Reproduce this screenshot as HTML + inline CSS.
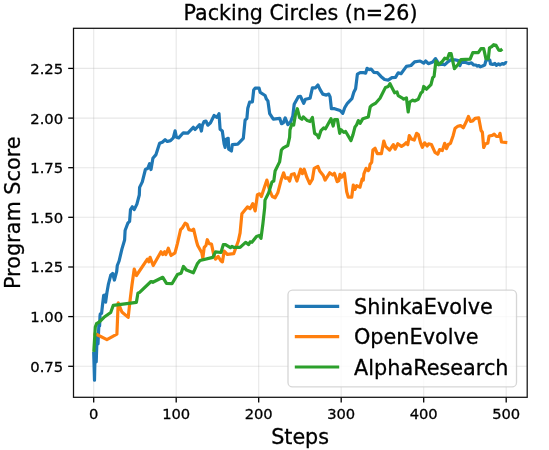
<!DOCTYPE html>
<html><head><meta charset="utf-8"><title>Packing Circles (n=26)</title>
<style>html,body{margin:0;padding:0;background:#fff}svg{display:block}text{font-family:"DejaVu Sans","Liberation Sans",sans-serif;fill:#000;stroke:#000;stroke-width:0.3px}</style></head>
<body>
<svg width="549" height="450" viewBox="0 0 549 450">
<rect width="549" height="450" fill="#fff"/>
<g stroke="#b0b0b0" stroke-opacity="0.3" stroke-width="1.1" fill="none">
<line x1="93.7" y1="28.3" x2="93.7" y2="397.3"/>
<line x1="176.2" y1="28.3" x2="176.2" y2="397.3"/>
<line x1="258.7" y1="28.3" x2="258.7" y2="397.3"/>
<line x1="341.2" y1="28.3" x2="341.2" y2="397.3"/>
<line x1="423.7" y1="28.3" x2="423.7" y2="397.3"/>
<line x1="506.2" y1="28.3" x2="506.2" y2="397.3"/>
<line x1="73.5" y1="366.3" x2="527.2" y2="366.3"/>
<line x1="73.5" y1="316.6" x2="527.2" y2="316.6"/>
<line x1="73.5" y1="267.0" x2="527.2" y2="267.0"/>
<line x1="73.5" y1="217.3" x2="527.2" y2="217.3"/>
<line x1="73.5" y1="167.7" x2="527.2" y2="167.7"/>
<line x1="73.5" y1="118.1" x2="527.2" y2="118.1"/>
<line x1="73.5" y1="68.4" x2="527.2" y2="68.4"/>
</g>
<clipPath id="c"><rect x="73.5" y="28.3" width="453.70000000000005" height="369.0"/></clipPath>
<g clip-path="url(#c)" fill="none" stroke-width="3.2" stroke-linejoin="round" stroke-linecap="butt">
<polyline stroke="#1f77b4" points="93.7,352.0 94.5,380.2 95.3,343.0 96.2,362.0 97.2,334.0 98.0,344.0 99.0,322.0 99.6,326.0 100.0,316.0 100.3,314.0 101.6,313.3 102.4,306.0 103.7,295.3 104.9,295.1 105.6,302.2 106.9,292.7 108.3,284.7 110.7,275.3 112.7,273.5 114.4,280.0 116.7,271.3 117.3,265.5 119.1,261.0 121.9,249.1 124.6,240.0 125.1,230.5 127.8,223.2 129.6,221.4 130.5,209.6 132.3,206.8 134.2,209.6 136.9,204.1 139.3,195.0 139.6,187.4 142.3,181.9 145.4,169.5 147.8,168.3 149.6,163.7 151.0,169.5 152.9,158.3 156.0,154.6 159.6,143.3 162.3,142.2 165.1,139.7 167.3,141.5 170.5,140.6 173.3,137.9 175.1,130.9 176.4,137.3 178.7,137.9 183.3,132.8 187.8,133.1 193.3,127.3 195.1,129.5 199.6,124.6 201.4,131.0 202.4,125.1 204.1,121.5 205.9,121.0 207.8,125.2 210.5,122.8 214.1,115.5 216.9,117.3 219.0,113.7 220.1,129.2 222.3,131.0 224.1,143.8 225.1,147.4 226.3,139.2 228.2,138.3 228.7,149.2 231.4,151.0 232.3,144.7 237.8,144.1 243.3,138.3 245.1,120.1 246.9,118.3 247.8,108.2 249.6,102.2 252.4,101.9 253.7,90.0 255.1,88.2 259.1,88.2 260.2,92.4 265.1,95.5 266.4,99.1 267.9,100.9 269.7,113.7 273.3,119.2 279.7,118.3 281.5,123.7 283.3,122.8 285.2,117.9 287.9,124.6 290.6,121.9 292.8,116.0 294.2,104.2 298.2,96.9 300.4,96.3 303.7,103.3 305.5,99.2 310.1,98.2 312.4,87.8 315.5,87.8 317.9,85.0 320.1,89.6 322.8,94.1 326.4,95.1 328.8,94.1 330.1,96.9 331.4,108.7 334.6,108.7 340.1,110.5 342.8,113.3 344.7,107.8 347.4,103.3 351.9,98.7 353.8,92.3 355.6,88.7 357.4,74.1 360.1,72.7 363.8,72.7 365.6,73.2 367.1,68.3 369.3,69.6 371.1,69.0 373.8,72.3 377.4,72.7 380.9,76.4 384.6,79.5 388.2,80.1 391.9,77.7 395.5,77.4 398.2,72.8 401.0,73.7 406.4,66.4 411.0,65.5 414.6,61.9 420.1,61.0 423.7,63.2 425.6,61.0 428.3,63.7 432.8,61.9 435.5,58.6 437.3,61.3 438.7,64.6 443.1,64.2 444.6,64.9 446.8,62.8 450.9,59.8 454.8,59.8 458.4,60.6 459.9,65.6 461.3,62.1 465.0,62.3 468.6,63.6 471.5,62.8 473.7,65.0 475.9,65.0 477.4,66.1 478.9,65.5 480.3,66.8 482.5,66.0 484.7,65.0 486.1,60.0 489.8,60.0 490.5,63.9 492.7,64.5 494.9,63.5 496.3,65.3 498.5,63.9 500.0,64.9 502.2,63.5 503.6,64.2 505.8,62.6 507.0,63.1"/>
<polyline stroke="#ff7f0e" points="93.4,334.0 96.8,334.5 106.9,339.6 116.9,334.2 118.2,302.8 121.9,312.0 128.2,317.4 130.1,300.1 131.9,285.5 134.2,269.1 136.4,275.5 147.4,259.1 148.8,261.9 150.1,257.3 153.2,265.5 161.0,251.8 162.8,254.5 164.6,251.8 165.9,254.5 168.3,248.2 171.0,255.5 175.0,252.8 177.4,243.6 180.6,229.6 182.4,227.8 185.2,223.2 187.0,224.1 188.8,229.6 192.4,230.5 193.6,229.1 196.4,241.0 197.7,245.5 201.8,252.8 202.8,258.3 204.2,247.4 206.0,245.5 207.3,239.7 209.1,243.7 211.5,244.1 213.7,254.6 215.5,259.2 218.2,256.5 221.0,261.0 222.4,261.9 224.2,251.0 227.3,254.3 233.7,253.7 238.3,241.0 240.1,232.8 241.9,213.7 247.4,206.9 250.1,208.7 252.8,203.6 255.2,210.9 257.4,194.7 259.6,193.8 261.4,196.5 264.1,188.3 266.9,180.1 269.6,190.1 272.3,196.5 275.1,197.8 277.8,192.8 281.4,179.2 283.6,172.8 285.4,178.3 287.8,177.7 289.6,181.0 291.4,174.6 294.2,173.7 296.9,181.0 300.6,169.2 302.4,173.7 304.2,169.2 306.9,177.4 309.7,183.7 312.4,179.2 314.2,168.3 317.9,166.4 319.7,171.0 323.3,175.5 325.1,180.1 329.7,172.8 332.8,175.0 334.4,173.3 337.2,181.7 338.9,180.6 340.0,174.4 341.7,177.2 344.4,173.3 346.7,191.7 348.3,197.2 351.7,197.2 353.3,185.0 355.0,189.4 356.7,185.6 360.0,187.2 362.2,178.9 363.3,180.0 363.9,173.9 366.1,168.3 368.3,170.6 369.4,168.9 370.0,164.4 371.7,162.2 372.9,150.1 375.1,148.3 377.3,153.7 381.4,153.7 383.8,141.0 385.6,146.4 389.6,150.1 393.3,144.6 395.1,149.2 397.8,143.7 401.5,146.4 404.2,144.6 406.0,142.8 407.8,144.6 409.3,135.5 411.5,139.1 414.2,140.1 416.6,133.3 418.4,134.6 420.6,142.8 422.4,147.3 424.6,142.8 427.2,146.0 428.6,143.8 431.4,144.5 435.0,152.4 437.8,154.2 439.6,149.6 442.3,150.6 444.7,143.3 446.5,148.7 448.3,144.5 450.5,143.3 453.2,135.4 455.1,128.2 457.8,126.3 460.5,125.6 463.3,127.8 466.0,122.3 468.4,116.5 470.5,121.4 472.7,120.9 475.1,118.3 478.7,117.8 481.1,130.5 482.4,132.3 483.7,147.5 485.5,143.8 487.8,143.3 489.1,136.0 492.4,135.4 494.2,134.2 496.4,136.5 498.8,136.5 500.0,133.3 501.5,142.0 507.3,142.7"/>
<polyline stroke="#2ca02c" points="93.8,351.8 95.3,327.0 96.7,323.4 98.7,322.5 104.0,317.3 110.7,312.5 113.3,305.3 136.4,302.3 137.9,293.2 139.6,292.3 151.0,281.5 152.8,282.3 162.8,277.3 166.5,283.4 172.0,283.7 177.4,274.6 181.1,273.2 183.4,266.4 186.5,270.1 193.3,272.8 197.3,263.8 200.0,260.5 212.8,257.4 215.5,251.9 221.0,252.5 223.3,244.6 225.5,244.6 230.4,247.7 231.9,246.4 233.7,247.4 240.1,247.4 245.6,242.3 248.7,244.6 250.1,241.9 251.9,242.3 256.5,236.4 259.2,235.5 261.0,238.3 262.9,223.7 264.7,207.3 265.0,200.1 268.7,192.8 272.0,181.9 273.8,181.0 275.1,171.0 279.6,161.9 281.4,150.0 283.3,147.9 287.8,145.5 289.6,137.3 290.0,129.7 291.8,124.2 293.7,125.1 295.5,114.2 297.3,108.7 299.7,117.8 301.9,119.3 303.3,116.9 307.3,120.6 310.1,121.5 312.4,117.5 314.6,133.3 317.3,135.1 318.6,137.9 321.0,130.6 323.7,127.8 325.5,128.8 331.0,118.7 333.2,126.0 334.6,119.6 337.4,119.6 339.7,133.3 341.0,129.7 343.8,132.4 345.6,131.5 351.0,140.6 352.9,135.1 355.0,126.9 356.5,125.1 358.3,120.6 360.1,123.3 362.9,118.7 368.3,116.9 370.2,106.9 372.0,105.1 375.6,103.3 380.0,98.3 385.5,87.4 388.2,86.5 390.0,83.7 391.9,87.4 394.6,92.8 397.0,91.9 398.2,95.6 401.9,97.8 403.7,99.2 406.4,97.8 408.2,112.0 409.7,102.0 412.8,100.1 414.6,101.0 418.3,99.2 421.0,92.8 422.5,91.9 423.7,86.5 426.5,89.2 431.0,84.6 432.8,77.4 434.1,76.4 435.9,61.0 438.3,64.6 442.0,61.9 444.7,58.2 447.4,59.1 449.2,53.7 451.1,53.7 454.4,68.7 458.2,64.2 460.9,59.6 470.1,59.2 472.8,52.7 478.3,52.7 481.0,48.7 483.7,48.7 485.9,58.7 488.3,58.7 489.5,47.8 491.9,46.5 493.7,44.7 496.1,45.4 498.7,50.1 500.5,50.5 502.3,49.0"/>
</g>
<g stroke="#000" stroke-width="1.3">
<line x1="93.7" y1="397.3" x2="93.7" y2="402.5"/>
<line x1="176.2" y1="397.3" x2="176.2" y2="402.5"/>
<line x1="258.7" y1="397.3" x2="258.7" y2="402.5"/>
<line x1="341.2" y1="397.3" x2="341.2" y2="402.5"/>
<line x1="423.7" y1="397.3" x2="423.7" y2="402.5"/>
<line x1="506.2" y1="397.3" x2="506.2" y2="402.5"/>
<line x1="68.2" y1="366.3" x2="73.5" y2="366.3"/>
<line x1="68.2" y1="316.6" x2="73.5" y2="316.6"/>
<line x1="68.2" y1="267.0" x2="73.5" y2="267.0"/>
<line x1="68.2" y1="217.3" x2="73.5" y2="217.3"/>
<line x1="68.2" y1="167.7" x2="73.5" y2="167.7"/>
<line x1="68.2" y1="118.1" x2="73.5" y2="118.1"/>
<line x1="68.2" y1="68.4" x2="73.5" y2="68.4"/>
</g>
<rect x="73.5" y="28.3" width="453.70000000000005" height="369.0" fill="none" stroke="#111" stroke-width="1.25"/>
<g font-size="14.7" text-anchor="middle">
<text x="93.7" y="419.3">0</text>
<text x="176.2" y="419.3">100</text>
<text x="258.7" y="419.3">200</text>
<text x="341.2" y="419.3">300</text>
<text x="423.7" y="419.3">400</text>
<text x="506.2" y="419.3">500</text>
</g>
<g font-size="14.8" text-anchor="end">
<text x="63.2" y="371.7">0.75</text>
<text x="63.2" y="322.1">1.00</text>
<text x="63.2" y="272.4">1.25</text>
<text x="63.2" y="222.8">1.50</text>
<text x="63.2" y="173.1">1.75</text>
<text x="63.2" y="123.5">2.00</text>
<text x="63.2" y="73.9">2.25</text>
</g>
<text x="300.1" y="443.6" font-size="20.7" text-anchor="middle">Steps</text>
<text transform="translate(20.2,212.8) rotate(-90)" font-size="20.8" text-anchor="middle">Program Score</text>
<text x="300.5" y="19.6" font-size="20.65" text-anchor="middle">Packing Circles (n=26)</text>
<rect x="288" y="290.1" width="228.5" height="96.8" rx="4.5" ry="4.5" fill="#fff" fill-opacity="0.8" stroke="#ccc" stroke-opacity="0.8" stroke-width="1.3"/>
<line x1="294.8" y1="306.4" x2="339.2" y2="306.4" stroke="#1f77b4" stroke-width="3.2"/>
<text x="354" y="313.9" font-size="20.8">ShinkaEvolve</text>
<line x1="294.8" y1="336.7" x2="339.2" y2="336.7" stroke="#ff7f0e" stroke-width="3.2"/>
<text x="354" y="344.2" font-size="20.8">OpenEvolve</text>
<line x1="294.8" y1="367.0" x2="339.2" y2="367.0" stroke="#2ca02c" stroke-width="3.2"/>
<text x="354" y="374.5" font-size="20.8">AlphaResearch</text>
</svg>
</body></html>
